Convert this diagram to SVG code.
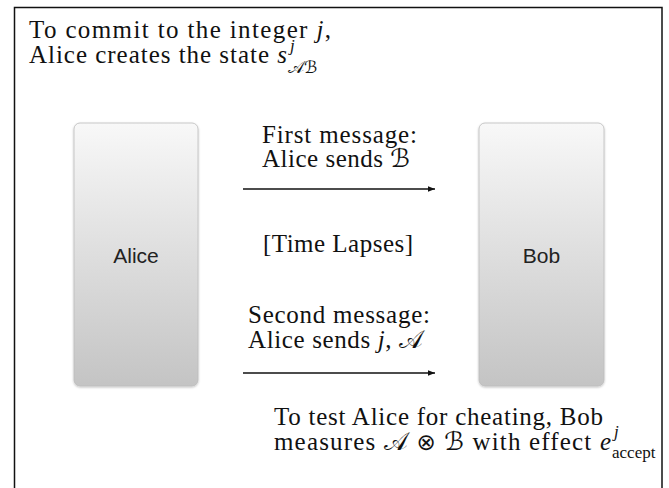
<svg xmlns="http://www.w3.org/2000/svg" width="669" height="488" viewBox="0 0 669 488">
  <style>
    .tx { font-family: "Liberation Serif", "DejaVu Serif", serif; font-size: 25px; fill: #111; }
    .it { font-style: italic; }
    .cal { font-family: "DejaVu Serif", "DejaVu Sans", serif; font-style: normal; }
    .op { font-family: "DejaVu Sans", sans-serif; font-size: 23px; }
    .sm { font-size: 17px; }
    .lbl { font-family: "Liberation Sans", Arial, sans-serif; font-size: 21px; fill: #222; text-anchor: middle; }
    .box { fill: url(#g); stroke: #bdbdbd; stroke-width: 0.8; filter: url(#sh); }
    .arr { stroke: #111; stroke-width: 1.4; fill: none; marker-end: url(#ah); }
  </style>
  <defs>
    <linearGradient id="g" x1="0" y1="0" x2="0" y2="1">
      <stop offset="0" stop-color="#f8f8f8"/>
      <stop offset="1" stop-color="#c4c4c4"/>
    </linearGradient>
    <filter id="sh" x="-10%" y="-10%" width="120%" height="120%">
      <feDropShadow dx="0" dy="1" stdDeviation="0.8" flood-color="#000" flood-opacity="0.25"/>
    </filter>
    <marker id="ah" viewBox="0 0 10 10" refX="10" refY="5" markerWidth="7" markerHeight="7" markerUnits="userSpaceOnUse" orient="auto">
      <path d="M0,1 L10,5 L0,9 z" fill="#111"/>
    </marker>
  </defs>

  <rect x="14.5" y="7.5" width="647.5" height="500" fill="#fff" stroke="#111" stroke-width="1.5"/>

  <g id="top-note">
    <text class="tx" x="29" y="38" textLength="302" lengthAdjust="spacing">To commit to the integer <tspan class="it">j</tspan>,</text>
    <text class="tx" x="29" y="63" textLength="258" lengthAdjust="spacing">Alice creates the state <tspan class="it">s</tspan></text>
    <text class="tx it sm" x="290" y="51">j</text>
    <text class="tx cal sm" x="288" y="73">𝒜ℬ</text>
  </g>

  <g id="alice">
    <rect class="box" x="74" y="123" width="124" height="263" rx="6"/>
    <text class="lbl" x="136" y="263">Alice</text>
  </g>

  <g id="bob">
    <rect class="box" x="479" y="123" width="125" height="263" rx="6"/>
    <text class="lbl" x="541.5" y="263">Bob</text>
  </g>

  <g id="connectors">
    <line class="arr" x1="243" y1="189" x2="435" y2="189"/>
    <line class="arr" x1="243" y1="373" x2="435" y2="373"/>
  </g>

  <g id="labels">
    <text class="tx" x="262" y="143" textLength="155" lengthAdjust="spacing">First message:</text>
    <text class="tx" x="262" y="167" textLength="148" lengthAdjust="spacing">Alice sends <tspan class="cal">ℬ</tspan></text>
    <text class="tx" x="263" y="252" textLength="150" lengthAdjust="spacing">[Time Lapses]</text>
    <text class="tx" x="248" y="323" textLength="182" lengthAdjust="spacing">Second message:</text>
    <text class="tx" x="248" y="348" textLength="175" lengthAdjust="spacing">Alice sends <tspan class="it">j</tspan>, <tspan class="cal">𝒜</tspan></text>
  </g>

  <g id="bottom-note">
    <text class="tx" x="274" y="425" textLength="329" lengthAdjust="spacing">To test Alice for cheating, Bob</text>
    <text class="tx" x="274" y="450" textLength="337" lengthAdjust="spacing">measures <tspan class="cal">𝒜</tspan> <tspan class="op">⊗</tspan> <tspan class="cal">ℬ</tspan> with effect <tspan class="it">e</tspan></text>
    <text class="tx it sm" x="614" y="437">j</text>
    <text class="tx sm" x="612" y="458">accept</text>
  </g>
</svg>
